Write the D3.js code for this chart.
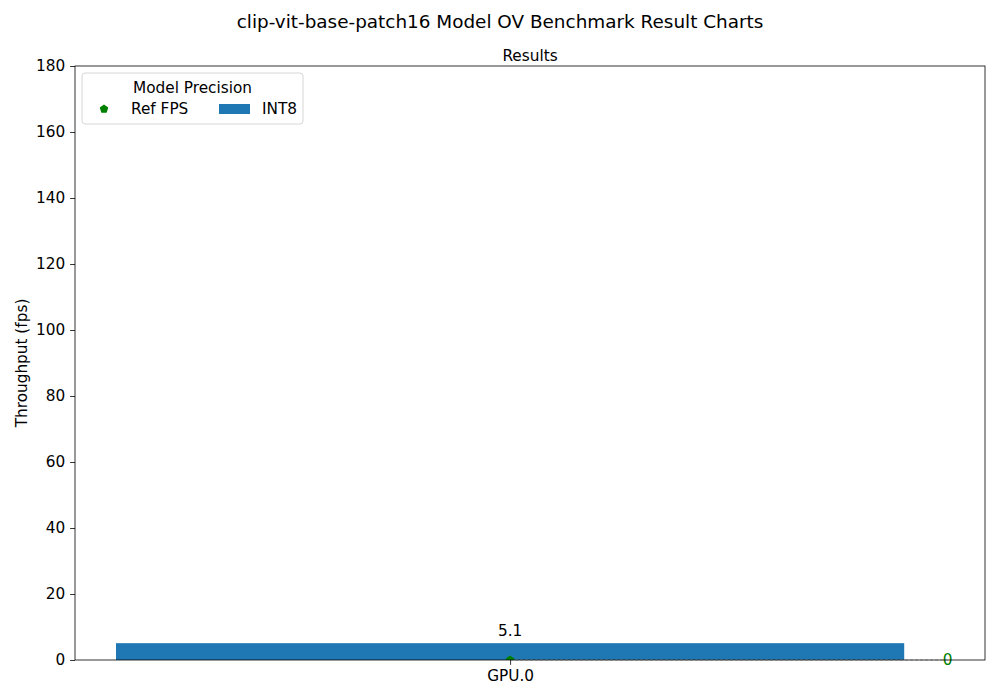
<!DOCTYPE html>
<html>
<head>
<meta charset="utf-8">
<script src="https://cdn.jsdelivr.net/npm/d3@7"></script>
<style>
  body { margin: 0; background: #fff; }
  svg { font-family: "DejaVu Sans", sans-serif; }
</style>
</head>
<body>
<svg width="1000" height="700"></svg>
<script>
// Data
const devices = ["GPU.0"];
const int8Values = [5.1];
const refFps = [0];
const yTicks = [0, 20, 40, 60, 80, 100, 120, 140, 160, 180];

const svg = d3.select("svg");
const margin = { left: 75, right: 15, top: 66, bottom: 40 };
const width = 1000 - margin.left - margin.right;
const height = 700 - margin.top - margin.bottom;
const fs = 15.3;

const g = svg.append("g").attr("transform", `translate(${margin.left},${margin.top})`);

svg.append("defs").append("clipPath").attr("id", "plotclip")
  .append("rect").attr("width", width).attr("height", height);

// index-based x scale, like matplotlib categorical axis
const x = d3.scaleLinear().domain([-0.4416, 0.482]).range([0, width]);
const y = d3.scaleLinear().domain([0, 180]).range([height, 0]);
const barWidth = 0.8;

// Title
svg.append("text")
  .attr("x", 500).attr("y", 28)
  .attr("text-anchor", "middle")
  .attr("font-size", 18.4)
  .text("clip-vit-base-patch16 Model OV Benchmark Result Charts");

svg.append("text")
  .attr("x", margin.left + width / 2).attr("y", 61)
  .attr("text-anchor", "middle")
  .attr("font-size", fs)
  .text("Results");

// Bars
g.selectAll("rect.bar")
  .data(int8Values)
  .join("rect")
  .attr("class", "bar")
  .attr("x", (d, i) => x(i - barWidth / 2))
  .attr("width", (d, i) => x(i + barWidth / 2) - x(i - barWidth / 2))
  .attr("y", d => y(d))
  .attr("height", d => y(0) - y(d))
  .attr("fill", "#1f77b4");

// Bar value labels
g.selectAll("text.val")
  .data(int8Values)
  .join("text")
  .attr("class", "val")
  .attr("x", (d, i) => x(i))
  .attr("y", d => y(d) - 7)
  .attr("text-anchor", "middle")
  .attr("font-size", fs)
  .text(d => d);

// Ref FPS dashed line to its label
g.selectAll("line.ref")
  .data(refFps)
  .join("line")
  .attr("class", "ref")
  .attr("x1", (d, i) => x(i))
  .attr("x2", (d, i) => x(i + 0.444))
  .attr("y1", d => y(d)).attr("y2", d => y(d))
  .attr("stroke", "#bbb")
  .attr("stroke-width", 1)
  .attr("stroke-dasharray", "3,2");

// Ref FPS label
g.selectAll("text.ref")
  .data(refFps)
  .join("text")
  .attr("class", "ref")
  .attr("x", (d, i) => x(i + 0.444))
  .attr("y", d => y(d) + 5)
  .attr("text-anchor", "middle")
  .attr("font-size", fs)
  .attr("fill", "green")
  .text(d => d);

// Axes
const xAxis = d3.axisBottom(x).tickValues(devices.map((d, i) => i))
  .tickFormat(i => devices[i]).tickSize(4.9).tickPadding(4.9);
const yAxis = d3.axisLeft(y).tickValues(yTicks).tickSize(4.9).tickPadding(4.9);

const gx = g.append("g").attr("transform", `translate(0,${height})`).call(xAxis);
const gy = g.append("g").call(yAxis);
[gx, gy].forEach(a => {
  a.select(".domain").remove();
  a.selectAll("text").attr("font-size", fs).attr("fill", "#000").attr("font-family", "DejaVu Sans");
  a.selectAll("line").attr("stroke", "#000").attr("stroke-width", 0.8);
});

// Ref FPS markers (pentagons), clipped to the plot area
const pentPath = r => {
  const pts = d3.range(5).map(k => {
    const a = -Math.PI / 2 + k * 2 * Math.PI / 5;
    return [r * Math.cos(a), r * Math.sin(a)];
  });
  return "M" + pts.join("L") + "Z";
};
g.append("g").attr("clip-path", "url(#plotclip)")
  .selectAll("path.refpt")
  .data(refFps)
  .join("path")
  .attr("class", "refpt")
  .attr("transform", (d, i) => `translate(${x(i)},${y(d)})`)
  .attr("d", pentPath(4.5))
  .attr("fill", "green");

// Frame
g.append("rect")
  .attr("width", width).attr("height", height)
  .attr("fill", "none").attr("stroke", "#000").attr("stroke-width", 0.8);

// Y label
svg.append("text")
  .attr("transform", `translate(27,${margin.top + height / 2}) rotate(-90)`)
  .attr("text-anchor", "middle")
  .attr("font-size", fs)
  .text("Throughput (fps)");

// Legend
const lg = g.append("g").attr("transform", "translate(7,7)");
lg.append("rect")
  .attr("width", 221).attr("height", 51)
  .attr("rx", 3)
  .attr("fill", "#fff").attr("fill-opacity", 0.8)
  .attr("stroke", "#ccc").attr("stroke-width", 0.8);
lg.append("text")
  .attr("x", 110.5).attr("y", 19.5)
  .attr("text-anchor", "middle")
  .attr("font-size", fs)
  .text("Model Precision");
lg.append("path")
  .attr("transform", "translate(22,36)")
  .attr("d", pentPath(4.5))
  .attr("fill", "green");
lg.append("text").attr("x", 49).attr("y", 41).attr("font-size", fs).text("Ref FPS");
lg.append("rect").attr("x", 137).attr("y", 31).attr("width", 31).attr("height", 10).attr("fill", "#1f77b4");
lg.append("text").attr("x", 180).attr("y", 41).attr("font-size", fs).text("INT8");
</script>
</body>
</html>
